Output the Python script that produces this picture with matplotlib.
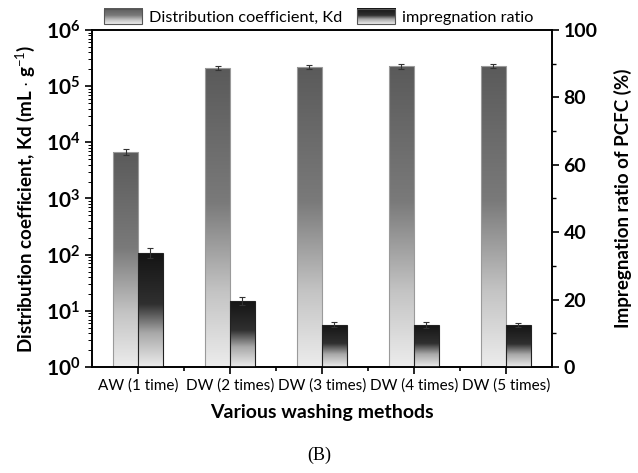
import numpy as np
import matplotlib
matplotlib.use("Agg")
import matplotlib.pyplot as plt
from matplotlib.colors import LinearSegmentedColormap
from matplotlib.legend_handler import HandlerBase
from matplotlib.image import BboxImage
from matplotlib.transforms import Bbox, TransformedBbox
from matplotlib.patches import Rectangle
from matplotlib.ticker import MultipleLocator, LogLocator, NullFormatter

plt.rcParams["font.family"] = ["Lato", "DejaVu Sans"]
plt.rcParams["mathtext.fontset"] = "custom"
plt.rcParams["mathtext.rm"] = "Lato"
plt.rcParams["mathtext.bf"] = "Lato:bold"

methods = ["AW (1 time)", "DW (2 times)", "DW (3 times)", "DW (4 times)", "DW (5 times)"]
kd = [6.8e3, 2.1e5, 2.2e5, 2.25e5, 2.3e5]
kd_err = [8e2, 2.0e4, 2.0e4, 2.0e4, 2.2e4]
ratio = [33.8, 19.6, 12.6, 12.6, 12.4]
ratio_err = [1.5, 1.3, 0.7, 0.9, 0.6]

KD_CMAP = LinearSegmentedColormap.from_list(
    "kd", [(0, "#ececec"), (0.25, "#c4c4c4"), (0.55, "#7a7a7a"), (1, "#5a5a5a")])
RT_CMAP = LinearSegmentedColormap.from_list(
    "rt", [(0, "#ececec"), (0.3, "#a8a8a8"), (0.55, "#303030"), (1, "#141414")])
GRAD = np.linspace(0, 1, 256).reshape(-1, 1)


def grad_bars(ax, bars, cmap):
    # gradient drawn in axes coords so it stays linear on screen (log axis too)
    to_axes = ax.transData + ax.transAxes.inverted()
    for b in bars:
        x0, y0 = b.get_x(), b.get_y()
        x1, y1 = x0 + b.get_width(), y0 + b.get_height()
        (ax0, ay0), (ax1, ay1) = to_axes.transform([(x0, y0), (x1, y1)])
        im = ax.imshow(GRAD, extent=[ax0, ax1, ay0, ay1], origin="lower", aspect="auto",
                       cmap=cmap, interpolation="bilinear", zorder=1,
                       transform=ax.transAxes)
        im.set_clip_path(b)


class GradHandler(HandlerBase):
    def __init__(self, cmap, ec):
        super().__init__()
        self.cmap, self.ec = cmap, ec

    def create_artists(self, legend, orig, xd, yd, w, h, fs, trans):
        bb = TransformedBbox(Bbox.from_bounds(-xd, -yd, w, h), trans)
        img = BboxImage(bb, cmap=self.cmap, interpolation="bilinear", origin="lower")
        img.set_data(GRAD)
        rect = Rectangle((-xd, -yd), w, h, fc="none", ec=self.ec, lw=0.8, transform=trans)
        return [img, rect]


fig = plt.figure(figsize=(6.38, 4.73), dpi=100)
ax = fig.add_axes([0.1442, 0.2241, 0.7206, 0.7125])
ax2 = ax.twinx()

x = np.arange(len(methods))
w = 0.27
ax.set_yscale("log")
ax.set_ylim(1, 1e6)
ax.set_xlim(-0.5, 4.5)
ax2.set_ylim(0, 100)
ax2.set_xlim(-0.5, 4.5)

b1 = ax.bar(x - w / 2, kd, w, bottom=1, color="none", edgecolor="#9a9a9a", lw=0.8, zorder=2)
ax.errorbar(x - w / 2, kd, yerr=kd_err, fmt="none", ecolor="#333333", elinewidth=0.8,
            capsize=2.5, capthick=0.8, zorder=3)
grad_bars(ax, b1, KD_CMAP)

b2 = ax2.bar(x + w / 2, ratio, w, color="none", edgecolor="#222222", lw=0.8, zorder=2)
ax2.errorbar(x + w / 2, ratio, yerr=ratio_err, fmt="none", ecolor="#333333", elinewidth=0.8,
             capsize=2.5, capthick=0.8, zorder=3)
grad_bars(ax2, b2, RT_CMAP)
ax.set_ylim(1, 1e6)
ax2.set_ylim(0, 100)

# ticks
ax.yaxis.set_major_locator(LogLocator(base=10, numticks=10))
ax.yaxis.set_minor_locator(LogLocator(base=10, subs=np.arange(2, 10), numticks=10))
ax.yaxis.set_minor_formatter(NullFormatter())
ax.tick_params(axis="y", which="major", length=5, width=1.2, labelsize=15, direction="out")
ax.tick_params(axis="y", which="minor", length=3, width=0.7, direction="out")
ax.set_xticks(x)
ax.set_xticklabels(methods, fontsize=11)
ax.set_xticks(x[:-1] + 0.5, minor=True)
ax.tick_params(axis="x", which="major", length=5, width=1.2, direction="out", pad=3)
ax.tick_params(axis="x", which="minor", length=3, width=1.2, direction="out")

ax2.yaxis.set_major_locator(MultipleLocator(20))
ax2.yaxis.set_minor_locator(MultipleLocator(10))
ax2.tick_params(axis="y", which="major", length=5, width=1.2, labelsize=14, direction="out")
ax2.tick_params(axis="y", which="minor", length=3, width=1.0, direction="out")

fig.canvas.draw()
for t in ax.get_yticklabels() + ax2.get_yticklabels():
    t.set_fontweight("bold")

for a in (ax, ax2):
    for s in a.spines.values():
        s.set_linewidth(1.2)

ax.set_ylabel("Distribution coefficient, Kd (mL $\\cdot$ g$^{-1}$)", fontsize=13.5,
              fontweight="bold", labelpad=6)
ax2.set_ylabel("Impregnation ratio of PCFC (%)", fontsize=13.5, fontweight="bold", labelpad=12)
ax.set_xlabel("Various washing methods", fontsize=14, fontweight="bold", labelpad=8)

handles = [Rectangle((0, 0), 1, 1), Rectangle((0, 0), 1, 1)]
fig.legend(handles, ["Distribution coefficient, Kd", "impregnation ratio"],
           handler_map={handles[0]: GradHandler(KD_CMAP, "#555555"),
                        handles[1]: GradHandler(RT_CMAP, "#555555")},
           loc="center", bbox_to_anchor=(0.5, 0.964), ncol=2, frameon=False,
           fontsize=11.7, handlelength=2.35, handleheight=1.05, handletextpad=0.43,
           columnspacing=0.9)

fig.text(0.5, 0.038, "(B)", ha="center", va="center", fontsize=13,
         family=["Liberation Serif", "DejaVu Serif"])

fig.savefig("out.png", dpi=100)
